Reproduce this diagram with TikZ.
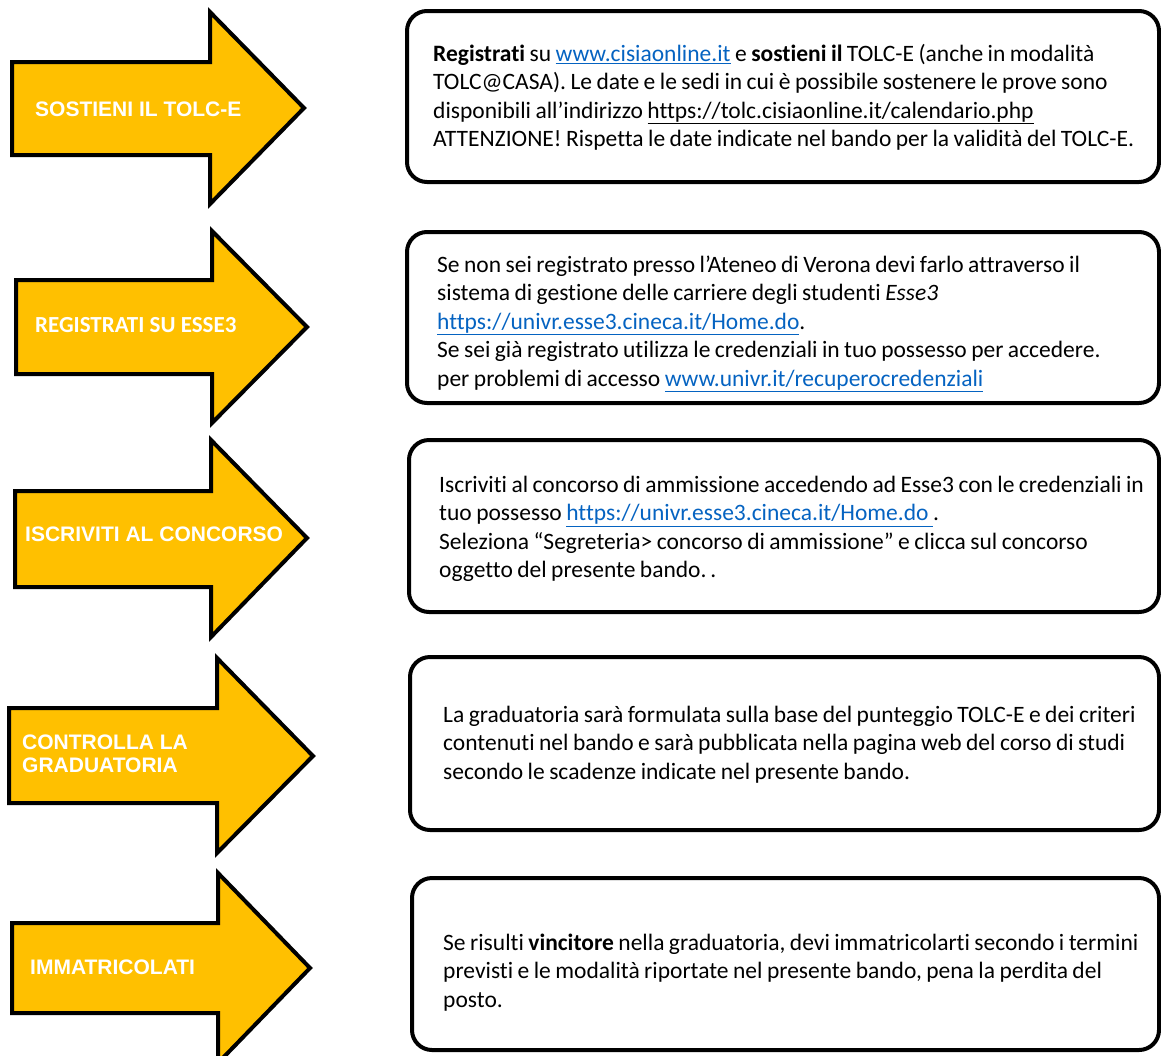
\documentclass[tikz,border=0pt]{standalone}
\usepackage{fontspec}
\setmainfont{Carlito}[Ligatures=NoCommon]
\newfontfamily\lsans{Liberation Sans}
\newfontfamily\calb{Carlito}[Ligatures=NoCommon]
\definecolor{gold}{HTML}{FFC000}
\definecolor{linkblue}{HTML}{0563C1}
\newcommand\weblink[1]{\textcolor{linkblue}{\underline{#1}}}
\newcommand\plainlink[1]{\underline{#1}}
\newcommand\tsp{\spaceskip=0.19em plus 0.05em\relax\strut}
\tikzset{
  steparrow/.style={fill=gold, draw=black, line width=4pt, line join=miter},
  arrowlabel/.style={text=white, font=\lsans\bfseries\fontsize{21}{23.5}\selectfont, inner sep=0pt, anchor=west, align=left},
  infobox/.style={draw=black, line width=4pt, rounded corners=20pt, anchor=north west, inner sep=0pt, outer sep=0pt},
  infotext/.style={font=\fontsize{23.5}{28.5}\selectfont, inner sep=0pt, anchor=north west, text width=760pt, align=left}
}
\begin{document}
\begin{tikzpicture}[x=1pt,y=-1pt]
\useasboundingbox (0,0) rectangle (1161,1055);
\clip (0,0) rectangle (1161,1055);

% arrows
\draw[steparrow] (12,62) -- (210,62) -- (210,12) -- (304,108) -- (210,204) -- (210,155) -- (12,155) -- cycle;
\draw[steparrow] (16,280) -- (212,280) -- (212,231) -- (307,327) -- (212,423) -- (212,374) -- (16,374) -- cycle;
\draw[steparrow] (15,491) -- (211,491) -- (211,440) -- (307,538) -- (211,637) -- (211,587) -- (15,587) -- cycle;
\draw[steparrow] (9,708) -- (217,708) -- (217,658) -- (313,756) -- (217,853) -- (217,803) -- (9,803) -- cycle;
\draw[steparrow] (12,923) -- (218,923) -- (218,873) -- (310,968) -- (218,1063) -- (218,1013) -- (12,1013) -- cycle;

\node[arrowlabel] (l1) at (35,109.5) {SOSTIENI IL TOLC-E};
\node[arrowlabel, font=\calb\bfseries\fontsize{23}{25}\selectfont] (l2) at (35,325) {REGISTRATI SU ESSE3};
\node[arrowlabel] (l3) at (25,534.5) {ISCRIVITI AL CONCORSO};
\node[arrowlabel] (l4) at (22,754) {CONTROLLA LA\\GRADUATORIA};
\node[arrowlabel] (l5) at (30,967.5) {IMMATRICOLATI};

% boxes
\node[infobox, minimum width=752pt, minimum height=171pt] (b1) at (407,11) {};
\node[infobox, minimum width=752pt, minimum height=171pt] (b2) at (407,232) {};
\node[infobox, minimum width=750pt, minimum height=172pt] (b3) at (409,440) {};
\node[infobox, minimum width=749pt, minimum height=173pt] (b4) at (410,657) {};
\node[infobox, minimum width=747pt, minimum height=172pt] (b5) at (412,878) {};

\node[infotext] (t1) at (433,41) {\tsp\textbf{Registrati} su \weblink{www.cisiaonline.it} e \textbf{sostieni il} TOLC-E (anche in modalità\\
TOLC@CASA). Le date e le sedi in cui è possibile sostenere le prove sono\\
disponibili all’indirizzo \plainlink{https://tolc.cisiaonline.it/calendario.php}\\
ATTENZIONE! Rispetta le date indicate nel bando per la validità del TOLC-E.\strut};

\node[infotext] (t2) at (437,252) {\tsp Se non sei registrato presso l’Ateneo di Verona devi farlo attraverso il\\
sistema di gestione delle carriere degli studenti \textit{Esse3}\\
\weblink{https://univr.esse3.cineca.it/Home.do}.\\
Se sei già registrato utilizza le credenziali in tuo possesso per accedere.\\
per problemi di accesso \weblink{www.univr.it/recuperocredenziali}\strut};

\node[infotext] (t3) at (439,472) {\tsp Iscriviti al concorso di ammissione accedendo ad Esse3 con le credenziali in\\
tuo possesso \weblink{https://univr.esse3.cineca.it/Home.do\ }.\\
Seleziona “Segreteria> concorso di ammissione” e clicca sul concorso\\
oggetto del presente bando.\,.\strut};

\node[infotext] (t4) at (443,702) {\tsp La graduatoria sarà formulata sulla base del punteggio TOLC-E e dei criteri\\
contenuti nel bando e sarà pubblicata nella pagina web del corso di studi\\
secondo le scadenze indicate nel presente bando.\strut};

\node[infotext] (t5) at (443,930) {\tsp Se risulti \textbf{vincitore} nella graduatoria, devi immatricolarti secondo i termini\\
previsti e le modalità riportate nel presente bando, pena la perdita del\\
posto.\strut};
\end{tikzpicture}
\end{document}
